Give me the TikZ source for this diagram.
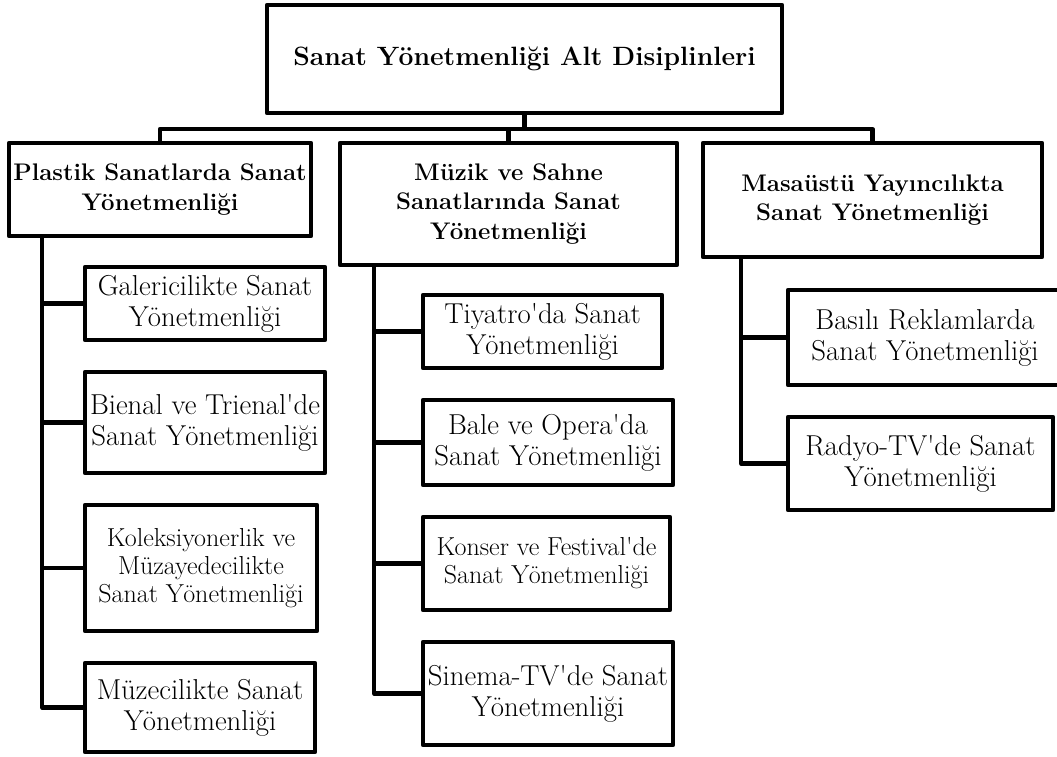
\documentclass[tikz,border=0pt]{standalone}
\usepackage{tikz}
\usetikzlibrary{positioning}

\begin{document}
\begin{tikzpicture}[x=1pt,y=-1pt,line width=4.2pt,line join=round,
	every node/.style={draw,rectangle,line width=4.2pt,align=center,inner sep=0pt},
	rootbox/.style={font=\fontsize{26.5}{31}\selectfont\bfseries},
	headbox/.style={font=\fontsize{24}{29.5}\selectfont\bfseries},
	leafbox/.style={font=\fontsize{28.8}{31}\selectfont},
	leafsmall/.style={font=\fontsize{26}{28}\selectfont}]
	\useasboundingbox (0,0) rectangle (1057,756);

	\node[rootbox,minimum width=515pt,minimum height=108pt] (root) at (524.5,59) {Sanat Yönetmenliği Alt Disiplinleri};

	\node[headbox,minimum width=302pt,minimum height=93pt] (plas) at (160,189.5) {Plastik Sanatlarda Sanat\\Yönetmenliği};
	\node[headbox,minimum width=337pt,minimum height=122pt] (muz) at (508.5,204) {Müzik ve Sahne\\Sanatlarında Sanat\\Yönetmenliği};
	\node[headbox,minimum width=339pt,minimum height=114pt] (mas) at (872.5,200) {Masaüstü Yayıncılıkta\\Sanat Yönetmenliği};

	\node[leafbox,minimum width=240pt,minimum height=73pt] (gal) at (205,303.5) {Galericilikte Sanat\\Yönetmenliği};
	\node[leafbox,minimum width=240pt,minimum height=101pt] (bie) at (205,422.5) {Bienal ve Trienal\textquotesingle de\\Sanat Yönetmenliği};
	\node[leafsmall,minimum width=232pt,minimum height=126pt] (kol) at (201,568) {Koleksiyonerlik ve\\Müzayedecilikte\\Sanat Yönetmenliği};
	\node[leafbox,minimum width=230pt,minimum height=89pt] (muze) at (200,707.5) {Müzecilikte Sanat\\Yönetmenliği};

	\node[leafbox,minimum width=239pt,minimum height=73pt] (tiy) at (542.5,331.5) {Tiyatro\textquotesingle da Sanat\\Yönetmenliği};
	\node[leafbox,minimum width=250pt,minimum height=85pt] (bal) at (548,442.5) {Bale ve Opera\textquotesingle da\\Sanat Yönetmenliği};
	\node[leafsmall,minimum width=247pt,minimum height=93pt] (kon) at (546.5,563.5) {Konser ve Festival\textquotesingle de\\Sanat Yönetmenliği};
	\node[leafbox,minimum width=250pt,minimum height=103pt] (sin) at (548,693.5) {Sinema-TV\textquotesingle de Sanat\\Yönetmenliği};

	\node[leafbox,minimum width=274pt,minimum height=95pt] (bas) at (925,337.5) {Basılı Reklamlarda\\Sanat Yönetmenliği};
	\node[leafbox,minimum width=265pt,minimum height=93pt] (rad) at (920.5,463.5) {Radyo-TV\textquotesingle de Sanat\\Yönetmenliği};

	\coordinate (bus) at (0,129);
	\coordinate (spP) at (42,0);
	\coordinate (spM) at (374,0);
	\coordinate (spD) at (741,0);

	\draw (root.south) -- (root.south |- bus);
	\draw (plas.north) |- (bus -| mas.north) -- (mas.north);
	\draw (muz.north) -- (muz.north |- bus);

	\foreach \n in {gal,bie,kol,muze}
		\draw (spP |- plas.south) |- (\n.west);
	\foreach \n in {tiy,bal,kon,sin}
		\draw (spM |- muz.south) |- (\n.west);
	\foreach \n in {bas,rad}
		\draw (spD |- mas.south) |- (\n.west);
\end{tikzpicture}
\end{document}
